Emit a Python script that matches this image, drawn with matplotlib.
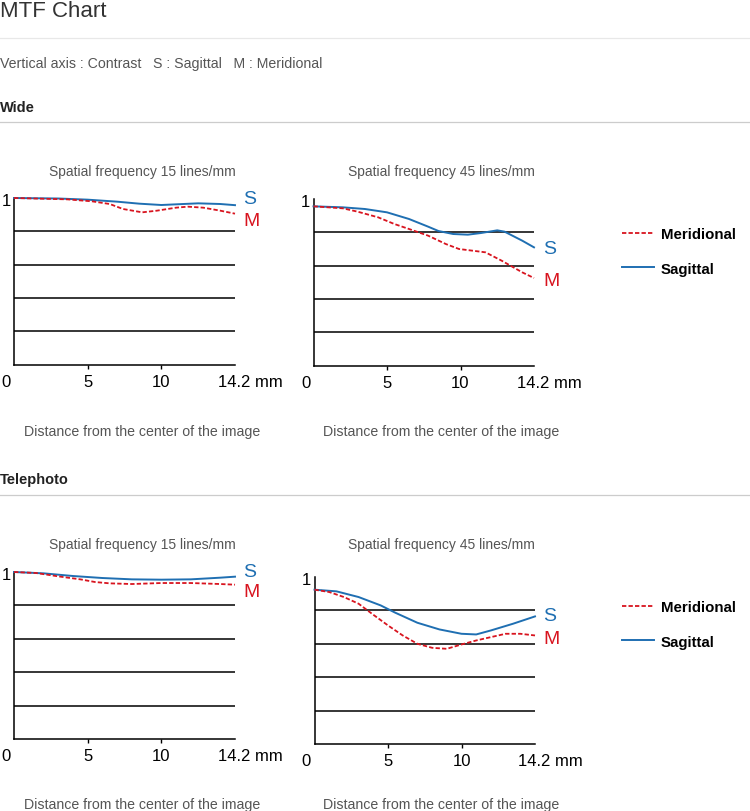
import matplotlib.pyplot as plt

plt.rcParams['font.family'] = ['Liberation Sans', 'DejaVu Sans']

W, H = 750, 812
BLUE = '#1f6fb2'
RED = '#d8141f'
GREY = '#555555'

# distance from the image centre (mm) and contrast
wide15_s_x = [0, 3, 5, 7, 8.5, 10, 11, 12.5, 14, 15]
wide15_s = [1.0, 0.997, 0.99, 0.978, 0.966, 0.958, 0.962, 0.968, 0.964, 0.957]
wide15_m_x = [0, 3.6, 5.3, 6.5, 7.4, 8.7, 9.7, 11, 11.8, 12.85, 14, 15]
wide15_m = [1.0, 0.992, 0.98, 0.964, 0.934, 0.914, 0.924, 0.942, 0.948, 0.942, 0.924, 0.906]

wide45_s_x = [0, 2, 3.5, 5, 6.5, 7.8, 8.5, 9.5, 10.5, 11.4, 12.5, 13, 14.2, 15]
wide45_s = [0.956, 0.95, 0.94, 0.92, 0.88, 0.834, 0.808, 0.79, 0.786, 0.796, 0.812, 0.804, 0.75, 0.71]
wide45_m_x = [0, 2, 3, 4.4, 5.5, 6.5, 7.8, 9, 9.9, 11, 11.7, 12.8, 14.2, 15]
wide45_m = [0.956, 0.944, 0.924, 0.89, 0.85, 0.82, 0.78, 0.73, 0.70, 0.688, 0.68, 0.63, 0.56, 0.526]

tele15_s_x = [0, 2, 4, 6, 8, 10, 12, 14, 15]
tele15_s = [1.0, 0.992, 0.976, 0.964, 0.956, 0.954, 0.956, 0.966, 0.972]
tele15_m_x = [0, 1.5, 3, 4.5, 5.5, 6.5, 8, 10, 12, 14, 15]
tele15_m = [1.0, 0.994, 0.974, 0.956, 0.94, 0.932, 0.928, 0.934, 0.934, 0.928, 0.924]

tele45_s_x = [0, 1.5, 3, 4.5, 5.5, 7, 8.5, 10, 11, 12, 13.5, 15]
tele45_s = [0.924, 0.914, 0.88, 0.83, 0.786, 0.726, 0.686, 0.66, 0.656, 0.68, 0.72, 0.764]
tele45_m_x = [0, 1, 2, 3, 4, 5, 6, 7, 8, 9, 10, 11, 12, 13, 14, 15]
tele45_m = [0.924, 0.91, 0.88, 0.84, 0.774, 0.71, 0.65, 0.6, 0.576, 0.57, 0.596, 0.62, 0.64, 0.66, 0.66, 0.65]

grid_levels = [0.2, 0.4, 0.6, 0.8]
x_ticks = [5, 10]

fig = plt.figure(figsize=(W / 100, H / 100), dpi=100)


def px_text(x, y, s, **kw):
    fig.text(x / W, 1 - y / H, s, **kw)


def rule(y, color):
    fig.add_artist(plt.Line2D([0, 1], [1 - y / H, 1 - y / H], color=color, lw=0.9))


def panel(box, sx, sy, mx, my, freq, title_y, dist_y, s_pos, m_pos, legend_y=None):
    l, r, y0, y1 = box
    ax = fig.add_axes([l / W, 1 - y0 / H, (r - l) / W, (y0 - y1) / H])
    ax.set_xlim(0, 15)
    ax.set_ylim(0, 1)
    for v in grid_levels:
        ax.axhline(v, color='black', lw=1.1, zorder=1)
    s_line, = ax.plot(sx, sy, color=BLUE, lw=1.4, clip_on=False, zorder=3)
    m_line, = ax.plot(mx, my, color=RED, lw=1.3, ls=(0, (2.4, 1.2)), clip_on=False, zorder=3)
    for side in ['top', 'right']:
        ax.spines[side].set_visible(False)
    ax.spines['left'].set_linewidth(1.1)
    ax.spines['bottom'].set_linewidth(1.1)
    ax.set_xticks(x_ticks)
    ax.set_xticklabels([])
    ax.tick_params(axis='x', length=3, width=1, direction='out')
    ax.set_yticks([])
    off = dict(textcoords='offset points', va='baseline', fontsize=12,
               annotation_clip=False)
    for t in x_ticks:
        ax.annotate(str(t), (t, 0), xycoords=('data', 'axes fraction'),
                    xytext=(0, -21 * 0.72), ha='center', **off)
    ax.annotate('0', (0, 0), xycoords='axes fraction', xytext=(-8 * 0.72, -21 * 0.72),
                ha='center', **off)
    ax.annotate('14.2 mm', (1, 0), xycoords='axes fraction', xytext=(-17 * 0.72, -21 * 0.72),
                ha='left', **off)
    ax.annotate('1', (0, 1), xycoords='axes fraction', xytext=(-8 * 0.72, -7 * 0.72),
                ha='center', **off)
    cx = 142.5 if l < 300 else 441.5
    px_text(cx, title_y, 'Spatial frequency %s lines/mm' % freq, ha='center',
            va='baseline', fontsize=10, color=GREY)
    px_text(cx, dist_y, 'Distance from the center of the image', ha='center',
            va='baseline', fontsize=10.2, color=GREY)
    px_text(s_pos[0], s_pos[1], 'S', color=BLUE, fontsize=14, va='center')
    px_text(m_pos[0], m_pos[1], 'M', color=RED, fontsize=14, va='center')
    if legend_y is not None:
        fig.legend([m_line, s_line], ['Meridional', 'Sagittal'], loc='center left',
                   bbox_to_anchor=(622 / W, 1 - legend_y / H), frameon=False,
                   prop={'weight': 'bold', 'size': 10.8}, handlelength=2.1,
                   handletextpad=0.5, labelspacing=1.35, borderpad=0, borderaxespad=0)


# header
px_text(0, 17, 'MTF Chart', fontsize=16, color='#333333', va='baseline')
rule(39, '#e8e8e8')
px_text(0, 68, 'Vertical axis : Contrast   S : Sagittal   M : Meridional',
        fontsize=10.2, color=GREY, va='baseline')
px_text(0, 112, 'Wide', fontsize=10.5, weight='bold', color='#222222', va='baseline')
rule(123, '#cccccc')
px_text(0, 484, 'Telephoto', fontsize=10.5, weight='bold', color='#222222', va='baseline')
rule(496, '#cccccc')

panel((14, 235, 365.7, 199), wide15_s_x, wide15_s, wide15_m_x, wide15_m, 15, 176, 436,
      (243, 200), (243, 221))
panel((313.5, 534, 366.7, 200), wide45_s_x, wide45_s, wide45_m_x, wide45_m, 45, 176, 436,
      (543, 250), (543, 281.5), legend_y=252.5)
panel((14, 235, 740, 573), tele15_s_x, tele15_s, tele15_m_x, tele15_m, 15, 549, 809,
      (243, 572.5), (243, 592.5))
panel((314.5, 535, 745, 578), tele45_s_x, tele45_s, tele45_m_x, tele45_m, 45, 549, 809,
      (543, 617), (543, 639.5), legend_y=625.5)

fig.savefig('out.png', dpi=100)
